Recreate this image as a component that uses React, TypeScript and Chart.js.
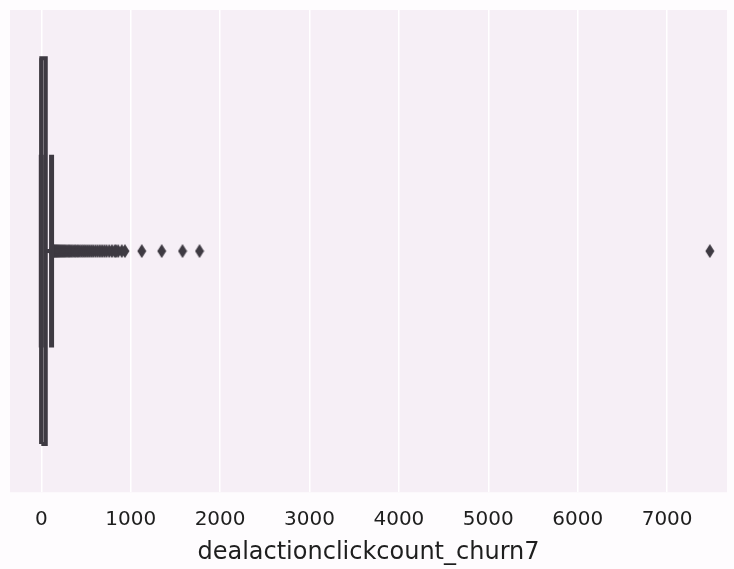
import React, { useEffect, useRef } from "react";
import { Chart, registerables } from "chart.js";

Chart.register(...registerables);

const xTicks = [0, 1000, 2000, 3000, 4000, 5000, 6000, 7000];
const axisTitle = "dealactionclickcount_churn7";

// box statistics
const boxQ1 = 0;
const boxMedian = 0;
const boxQ3 = 50;
const whiskerLow = 0;
const whiskerHigh = 115;

// outliers (fliers)
const outliers = [
  122, 128, 135, 142, 150, 158, 166, 175, 185, 195, 205, 216, 228, 240,
  252, 266, 280, 295, 310, 325, 340, 358, 375, 392, 410, 430, 450, 470, 490,
  512, 535, 558, 580, 605, 630, 655, 680, 705, 730, 760, 790, 820, 835, 860,
  900, 935, 1124, 1347, 1580, 1770, 7478,
];

const darkGray = "#3e3a42";
const fontFamily = "'DejaVu Sans', sans-serif";

export default function App() {
  const ref = useRef<HTMLCanvasElement | null>(null);

  useEffect(() => {
    document.body.style.margin = "0";
    const canvas = ref.current;
    if (!canvas) return;

    // thin diamond marker (matplotlib "d")
    const marker = document.createElement("canvas");
    marker.width = 10;
    marker.height = 14;
    const mctx = marker.getContext("2d")!;
    mctx.fillStyle = darkGray;
    mctx.beginPath();
    mctx.moveTo(5, 0);
    mctx.lineTo(9.5, 7);
    mctx.lineTo(5, 14);
    mctx.lineTo(0.5, 7);
    mctx.closePath();
    mctx.fill();

    const bgPlugin = {
      id: "plotBg",
      beforeDraw(chart: any) {
        const { ctx, chartArea } = chart;
        ctx.save();
        ctx.fillStyle = "#fefcfe";
        ctx.fillRect(0, 0, chart.width, chart.height);
        ctx.fillStyle = "#f6eff6";
        ctx.fillRect(
          chartArea.left,
          chartArea.top,
          chartArea.right - chartArea.left,
          chartArea.bottom - chartArea.top
        );
        ctx.restore();
      },
    };

    const lineDs = (data: { x: number; y: number }[], width: number) => ({
      type: "scatter" as const,
      data,
      showLine: true,
      borderColor: darkGray,
      backgroundColor: darkGray,
      borderWidth: width,
      pointRadius: 0,
      fill: false,
    });

    const chart = new Chart(canvas, {
      type: "scatter",
      data: {
        datasets: [
          // box
          lineDs(
            [
              { x: boxQ1, y: -0.4 },
              { x: boxQ3, y: -0.4 },
              { x: boxQ3, y: 0.4 },
              { x: boxQ1, y: 0.4 },
              { x: boxQ1, y: -0.4 },
            ],
            4
          ),
          // median
          lineDs(
            [
              { x: boxMedian, y: -0.4 },
              { x: boxMedian, y: 0.4 },
            ],
            4
          ),
          // whiskers
          lineDs(
            [
              { x: whiskerLow, y: 0 },
              { x: boxQ1, y: 0 },
            ],
            4
          ),
          lineDs(
            [
              { x: boxQ3, y: 0 },
              { x: whiskerHigh, y: 0 },
            ],
            4
          ),
          // caps
          lineDs(
            [
              { x: whiskerLow, y: -0.2 },
              { x: whiskerLow, y: 0.2 },
            ],
            5
          ),
          lineDs(
            [
              { x: whiskerHigh, y: -0.2 },
              { x: whiskerHigh, y: 0.2 },
            ],
            5
          ),
          // outliers
          {
            type: "scatter" as const,
            data: outliers.map((v) => ({ x: v, y: 0 })),
            pointStyle: marker as any,
            pointRadius: 6,
            backgroundColor: darkGray,
            borderColor: darkGray,
          },
        ] as any,
      },
      options: {
        animation: false,
        responsive: false,
        layout: { padding: { left: 10, right: 4, top: 10, bottom: 2 } },
        plugins: {
          legend: { display: false },
          tooltip: { enabled: false },
        },
        scales: {
          x: {
            type: "linear",
            min: -350,
            max: 7670,
            afterBuildTicks: (scale: any) => {
              scale.ticks = xTicks.map((v) => ({ value: v }));
            },
            grid: {
              color: "#ffffff",
              lineWidth: 1.5,
              drawTicks: false,
            },
            border: { display: false },
            ticks: {
              padding: 16,
              color: "#1e1e1e",
              font: { family: fontFamily, size: 20 },
              callback: (v: any) => String(v),
            },
            title: {
              display: true,
              text: axisTitle,
              color: "#1e1e1e",
              padding: { top: -10, bottom: 0 },
              font: { family: fontFamily, size: 24 },
            },
          },
          y: {
            type: "linear",
            min: -0.5,
            max: 0.5,
            display: false,
          },
        },
      },
      plugins: [bgPlugin],
    });

    return () => chart.destroy();
  }, []);

  return <canvas ref={ref} width={734} height={569} style={{ display: "block" }} />;
}
